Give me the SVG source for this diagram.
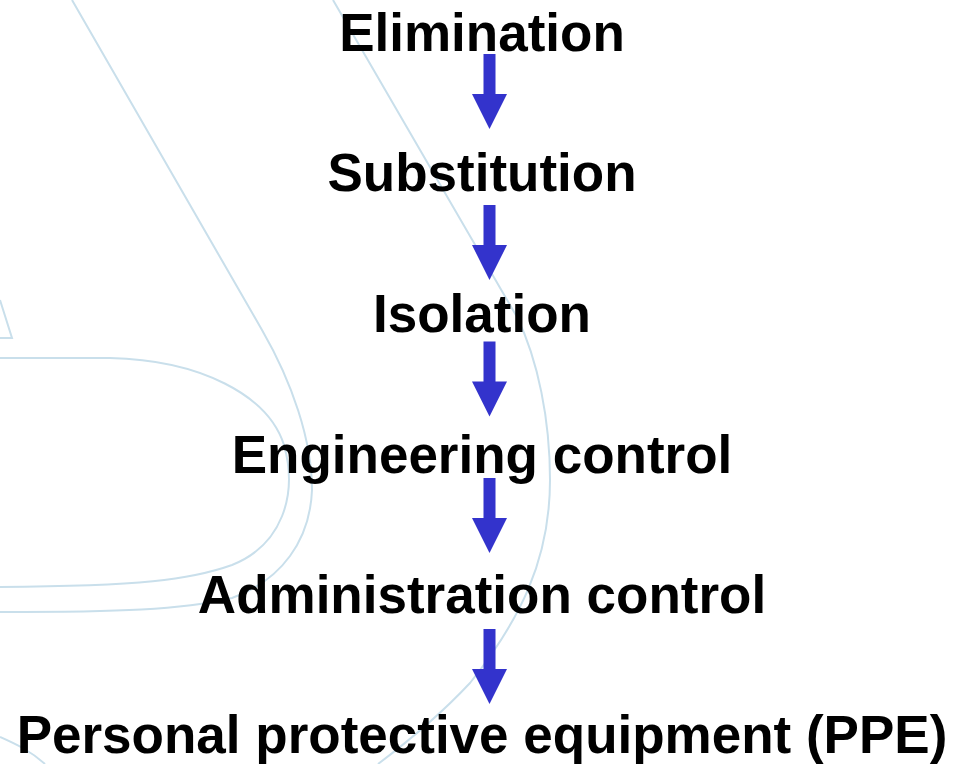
<svg xmlns="http://www.w3.org/2000/svg" xmlns:xlink="http://www.w3.org/1999/xlink" width="954" height="764" viewBox="0 0 954 764">
  <defs>
    <style>
      .bg { fill: none; stroke: #c9dfeb; stroke-width: 2; }
      .label { font-family: "Liberation Sans", Arial, sans-serif; font-weight: bold; font-size: 53px; fill: #000; text-anchor: middle; }
      .arrow { fill: #3333cc; }
    </style>
    <path id="arrowShape" d="M-6,0 H6 V40 H17.5 L0,75 L-17.5,40 H-6 Z"/>
  </defs>
  <rect width="954" height="764" fill="#ffffff"/>
  <g id="background">
    <path class="bg" d="M0,300 L12,338 L0,338"/>
    <path class="bg" d="M0,358 L110,358 C200,360 268,395 284,445 C298,495 282,545 232,565 C190,580 140,586 0,587"/>
    <path class="bg" d="M72,0 L262,330 C292,382 312,440 312,490 C310,540 282,580 232,598 C180,610 120,612 0,612"/>
    <path class="bg" d="M333,0 L517,317 C538,360 550,420 550,480 C550,560 520,620 470,683 C440,715 410,740 378,764"/>
    <path class="bg" d="M0,737 C18,745 32,752 45,764"/>
  </g>
  <g id="connectors">
    <use xlink:href="#arrowShape" class="arrow" transform="translate(489.5,54)"/>
    <use xlink:href="#arrowShape" class="arrow" transform="translate(489.5,205)"/>
    <use xlink:href="#arrowShape" class="arrow" transform="translate(489.5,341.5)"/>
    <use xlink:href="#arrowShape" class="arrow" transform="translate(489.5,478)"/>
    <use xlink:href="#arrowShape" class="arrow" transform="translate(489.5,629)"/>
  </g>
  <g id="elimination"><text class="label" x="482" y="51">Elimination</text></g>
  <g id="substitution"><text class="label" x="482" y="191">Substitution</text></g>
  <g id="isolation"><text class="label" x="482" y="332">Isolation</text></g>
  <g id="engineering"><text class="label" x="482" y="473">Engineering control</text></g>
  <g id="administration"><text class="label" x="482" y="613">Administration control</text></g>
  <g id="ppe"><text class="label" x="482" y="753">Personal protective equipment (PPE)</text></g>
</svg>
